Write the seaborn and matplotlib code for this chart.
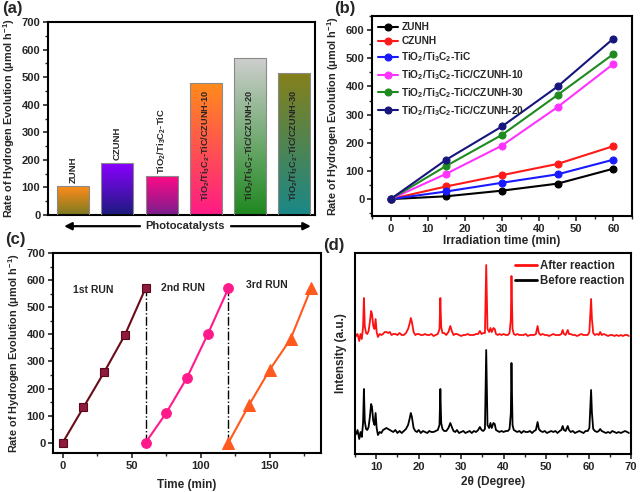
import numpy as np
import pandas as pd
import matplotlib
matplotlib.use('Agg')
import matplotlib.pyplot as plt
import seaborn as sns
from matplotlib.colors import LinearSegmentedColormap
from matplotlib.ticker import MultipleLocator

# ---------------- data ----------------
# (a) bar chart
bar_names = ['ZUNH', 'CZUNH', 'TiO$_2$/Ti$_3$C$_2$-TiC',
             'TiO$_2$/Ti$_3$C$_2$-TiC/CZUNH-10',
             'TiO$_2$/Ti$_3$C$_2$-TiC/CZUNH-20',
             'TiO$_2$/Ti$_3$C$_2$-TiC/CZUNH-30']
bar_values = [105, 188, 140, 480, 570, 515]

# (b) time course
time_b = [0, 15, 30, 45, 60]
b_zunh = [0, 10, 30, 55, 108]
b_czunh = [0, 45, 85, 125, 188]
b_tic = [0, 27, 58, 88, 140]
b_c10 = [0, 90, 190, 327, 480]
b_c30 = [0, 118, 228, 370, 515]
b_c20 = [0, 140, 258, 400, 570]
b_labels = ['ZUNH', 'CZUNH', 'TiO$_2$/Ti$_3$C$_2$-TiC',
            'TiO$_2$/Ti$_3$C$_2$-TiC/CZUNH-10',
            'TiO$_2$/Ti$_3$C$_2$-TiC/CZUNH-30',
            'TiO$_2$/Ti$_3$C$_2$-TiC/CZUNH-20']

# (c) cycling runs
run1_time = [0, 15, 30, 45, 60]
run1_rate = [0, 130, 260, 397, 570]
run2_time = [60, 75, 90, 105, 120]
run2_rate = [0, 110, 240, 400, 570]
run3_time = [120, 135, 150, 165, 180]
run3_rate = [0, 140, 270, 383, 572]
run_names = ['1st RUN', '2nd RUN', '3rd RUN']

# (d) XRD patterns (2theta in degrees, intensity in a.u. above baseline)
two_theta = [5.0, 5.3, 5.6, 6.0, 6.3, 6.6, 6.9, 7.1, 7.3, 7.6,
             7.9, 8.2, 8.5, 8.8, 9.0, 9.3, 9.6, 9.85, 10.1, 10.4,
             10.8, 11.2, 11.6, 12.0, 12.4, 12.8, 13.2, 13.6, 14.0, 14.5,
             15.0, 15.5, 16.0, 16.5, 17.0, 17.5, 17.9, 18.15, 18.4, 18.8,
             19.2, 19.6, 20.0, 20.5, 21.0, 21.5, 22.0, 22.5, 23.0, 23.5,
             24.0, 24.5, 24.9, 25.1, 25.3, 25.6, 26.0, 26.5, 27.0, 27.45,
             27.8, 28.2, 28.6, 29.0, 29.5, 30.0, 30.5, 31.0, 31.5, 32.0,
             32.5, 33.0, 33.5, 34.0, 34.4, 34.8, 35.2, 35.6, 35.9, 36.2,
             36.6, 36.9, 37.2, 37.6, 37.9, 38.2, 38.6, 39.0, 39.5, 40.0,
             40.5, 41.0, 41.4, 41.7, 41.85, 42.1, 42.4, 42.8, 43.2, 43.7,
             44.2, 44.7, 45.2, 45.7, 46.2, 46.7, 47.2, 47.6, 48.0, 48.3,
             48.7, 49.2, 49.7, 50.2, 50.7, 51.2, 51.7, 52.2, 52.7, 53.2,
             53.6, 53.9, 54.2, 54.6, 55.1, 55.4, 55.8, 56.3, 56.8, 57.3,
             57.8, 58.3, 58.8, 59.3, 59.8, 60.2, 60.6, 60.8, 61.1, 61.5,
             62.0, 62.4, 62.75, 63.1, 63.6, 64.1, 64.6, 65.1, 65.6, 66.1,
             66.6, 67.1, 67.6, 68.1, 68.6, 69.1, 69.5]
before_int = [2, -1, 3, -6, 1, -4, 10, 44, 12, 4,
              3, 6, 16, 29, 26, 12, 8, 20, 5, -2,
              1, 0, 3, 4, 5, 4, 3, 2, 1, 3,
              0, 2, 0, 2, 4, 8, 15, 20, 16, 5,
              2, 1, 3, 0, 2, 1, 0, 2, 1, 1,
              2, 3, 8, 44, 10, 4, 2, 2, 5, 10,
              6, 2, 1, 3, 0, 1, 2, 0, 1, 2,
              0, 2, 1, 3, 6, 3, 2, 4, 83, 8,
              5, 10, 5, 10, 9, 3, 2, 1, 2, 1,
              2, 2, 4, 20, 70, 8, 3, 2, 1, 2,
              0, 2, 1, 1, 2, 0, 2, 3, 11, 4,
              2, 1, 2, 0, 1, 2, 1, 2, 0, 2,
              3, 7, 3, 2, 7, 3, 1, 2, 0, 1,
              2, 1, 0, 2, 2, 5, 43, 20, 4, 2,
              1, 2, 4, 2, 1, 0, 1, 0, 2, 1,
              0, 1, 0, 1, 2, 1, 0]
after_int = [3, 0, 2, -5, 2, -3, 9, 38, 10, 3,
             2, 5, 14, 25, 22, 10, 7, 17, 4, -1,
             2, 1, 2, 4, 4, 3, 4, 1, 2, 2,
             1, 3, 1, 1, 3, 7, 13, 18, 14, 4,
             1, 2, 2, 1, 1, 2, 1, 1, 2, 0,
             1, 2, 7, 38, 9, 3, 3, 1, 4, 10,
             5, 1, 2, 2, 1, 0, 1, 1, 2, 1,
             1, 1, 2, 2, 5, 2, 3, 3, 71, 7,
             4, 8, 4, 8, 7, 2, 1, 2, 1, 2,
             1, 1, 3, 17, 60, 7, 2, 1, 2, 1,
             1, 1, 2, 0, 1, 1, 1, 2, 10, 3,
             1, 2, 1, 1, 0, 1, 2, 1, 1, 1,
             2, 6, 2, 1, 6, 2, 2, 1, 1, 0,
             1, 2, 1, 1, 1, 4, 37, 17, 3, 1,
             2, 1, 4, 1, 2, 1, 0, 1, 1, 0,
             1, 0, 1, 0, 1, 1, 0]

# ---------------- style ----------------
sns.set_style('ticks')
plt.rcParams['font.family'] = ['Liberation Sans', 'DejaVu Sans']
plt.rcParams['font.weight'] = 'bold'
plt.rcParams['axes.labelweight'] = 'bold'
plt.rcParams['mathtext.fontset'] = 'custom'
plt.rcParams['mathtext.rm'] = 'Liberation Sans:bold'
plt.rcParams['mathtext.it'] = 'Liberation Sans:bold'
plt.rcParams['mathtext.bf'] = 'Liberation Sans:bold'
plt.rcParams['mathtext.default'] = 'rm'

fig = plt.figure(figsize=(6.4, 4.92), dpi=100)
W, H = 640, 492


def add_ax(l, r, t, b):
    return fig.add_axes([l / W, 1 - b / H, (r - l) / W, (b - t) / H])


def style_ax(ax, minor_x=None, minor_y=None):
    for s in ax.spines.values():
        s.set_linewidth(1.5)
        s.set_color('black')
    ax.tick_params(which='major', direction='out', length=3.5, width=1.2,
                   labelsize=8, top=False, right=False, pad=2)
    ax.tick_params(which='minor', direction='out', length=2, width=1.0,
                   top=False, right=False)
    for lab in ax.get_xticklabels() + ax.get_yticklabels():
        lab.set_fontweight('bold')
    if minor_x:
        ax.xaxis.set_minor_locator(MultipleLocator(minor_x))
    if minor_y:
        ax.yaxis.set_minor_locator(MultipleLocator(minor_y))


ylab = 'Rate of Hydrogen Evolution (μmol h$^{-1}$)'
YLFS = 7.8

# ---------------- (a) ----------------
axA = add_ax(48, 315, 22, 215)
dfa = pd.DataFrame({'cat': bar_names, 'val': bar_values})
sns.barplot(data=dfa, x='cat', y='val', ax=axA, color='white', width=0.72,
            edgecolor='#8a8a8a', linewidth=0.8)
top_cols = ['#ff8c1a', '#8a00ff', '#ff0a86', '#ff8c1a', '#cfcfcf', '#85801a']
bot_cols = ['#7c7a22', '#1c1c7e', '#7a1e8e', '#ff1a86', '#1e881e', '#1a8888']
grad = np.linspace(0, 1, 256).reshape(-1, 1)
for p, c0, c1 in zip(axA.patches, bot_cols, top_cols):
    p.set_facecolor('none')
    p.set_zorder(3)
    x0, y0, w, h = p.get_x(), p.get_y(), p.get_width(), p.get_height()
    cmap = LinearSegmentedColormap.from_list('g', [c0, c1])
    im = axA.imshow(grad, extent=[x0, x0 + w, y0, y0 + h], origin='lower',
                    cmap=cmap, aspect='auto', zorder=2)
    im.set_clip_path(p)
axA.set_xlim(-0.57, 5.47)
axA.set_ylim(0, 700)
axA.set_aspect('auto')
for i, (name, v) in enumerate(zip(bar_names, bar_values)):
    if i < 3:
        axA.annotate(name, (i, v), xytext=(0, 2), textcoords='offset points',
                     rotation=90, ha='center', va='bottom', fontsize=6.8,
                     fontweight='bold', zorder=5)
    else:
        axA.text(i, 52, name, rotation=90, ha='center', va='bottom',
                 fontsize=6.6, fontweight='bold', zorder=5)
axA.set_xticks([])
axA.set_xlabel('')
axA.yaxis.set_major_locator(MultipleLocator(100))
style_ax(axA, minor_y=50)
axA.set_ylabel(ylab, fontsize=YLFS, labelpad=3)
yarr = -0.058
axA.annotate('', xy=(0.05, yarr), xytext=(0.355, yarr), xycoords='axes fraction',
             arrowprops=dict(arrowstyle='-|>', color='black', lw=1.6,
                             mutation_scale=11), annotation_clip=False)
axA.annotate('', xy=(0.995, yarr), xytext=(0.675, yarr), xycoords='axes fraction',
             arrowprops=dict(arrowstyle='-|>', color='black', lw=1.6,
                             mutation_scale=11), annotation_clip=False)
axA.text(0.512, yarr, 'Photocatalysts', transform=axA.transAxes, ha='center',
         va='center', fontsize=8, fontweight='bold')

# ---------------- (b) ----------------
axB = add_ax(372, 632, 16, 216)
b_series = [b_zunh, b_czunh, b_tic, b_c10, b_c30, b_c20]
b_colors = ['#000000', '#ff1a1a', '#1a1aff', '#ff33ff', '#1f8a1f', '#16167c']
for ys, lab, col in zip(b_series, b_labels, b_colors):
    sns.lineplot(x=time_b, y=ys, ax=axB, color=col, lw=1.5, marker='o',
                 markersize=5, markerfacecolor=col, markeredgecolor=col,
                 markeredgewidth=0.8, label=lab)
axB.set_xlim(-5, 65)
axB.set_ylim(-60, 650)
axB.xaxis.set_major_locator(MultipleLocator(10))
axB.yaxis.set_major_locator(MultipleLocator(100))
style_ax(axB, minor_x=5, minor_y=50)
axB.set_xlabel('Irradiation time (min)', fontsize=8.5, labelpad=1)
axB.set_ylabel(ylab, fontsize=YLFS, labelpad=3)
leg = axB.legend(loc='upper left', frameon=False, fontsize=7.3,
                 handlelength=2.0, labelspacing=0.4, borderaxespad=0.2,
                 handletextpad=0.3)
for t in leg.get_texts():
    t.set_fontweight('bold')

# ---------------- (c) ----------------
axC = add_ax(53, 321, 253, 453)
sns.lineplot(x=run1_time, y=run1_rate, ax=axC, color='#6a0c18', lw=1.5,
             marker='s', markersize=6, markerfacecolor='#8e1a3e',
             markeredgecolor='#5a0a14', markeredgewidth=0.8)
sns.lineplot(x=run2_time, y=run2_rate, ax=axC, color='#ff1a8c', lw=1.5,
             marker='o', markersize=7, markerfacecolor='#ff1a8c',
             markeredgecolor='#ff1a8c')
sns.lineplot(x=run3_time, y=run3_rate, ax=axC, color='#ff5a1e', lw=1.5,
             marker='^', markersize=8, markerfacecolor='#ff5a1e',
             markeredgecolor='#ff5a1e')
axC.vlines(run1_time[-1], run2_rate[0], run1_rate[-1], colors='black',
           linestyles='-.', lw=1.0, zorder=1)
axC.vlines(run2_time[-1], run3_rate[0], run2_rate[-1], colors='black',
           linestyles='-.', lw=1.0, zorder=1)
axC.text(22, 565, run_names[0], ha='center', va='center', fontsize=7.5,
         fontweight='bold')
axC.text(87, 570, run_names[1], ha='center', va='center', fontsize=7.5,
         fontweight='bold')
axC.text(148, 582, run_names[2], ha='center', va='center', fontsize=7.5,
         fontweight='bold')
axC.set_xlim(-7, 187)
axC.set_ylim(-38, 700)
axC.xaxis.set_major_locator(MultipleLocator(50))
axC.yaxis.set_major_locator(MultipleLocator(100))
style_ax(axC, minor_x=25, minor_y=50)
axC.set_xlabel('Time (min)', fontsize=8.5, labelpad=6)
axC.set_ylabel(ylab, fontsize=YLFS, labelpad=3)

# ---------------- (d) ----------------
axD = add_ax(355, 631, 253, 454)
off_before, off_after = 21, 118
sns.lineplot(x=two_theta, y=np.array(after_int) + off_after, ax=axD,
             color='#ff1010', lw=1.3, label='After reaction')
sns.lineplot(x=two_theta, y=np.array(before_int) + off_before, ax=axD,
             color='black', lw=1.3, label='Before reaction')
axD.set_xlim(5, 70)
axD.set_ylim(0, 201)
axD.xaxis.set_major_locator(MultipleLocator(10))
axD.set_yticks([])
style_ax(axD, minor_x=5)
axD.set_xlabel('2θ (Degree)', fontsize=8.5, labelpad=3)
axD.set_ylabel('Intensity (a.u.)', fontsize=8.5, labelpad=6)
leg = axD.legend(loc='upper right', frameon=False, fontsize=8.3,
                 handlelength=1.9, labelspacing=0.25, borderaxespad=0.2,
                 handletextpad=0.2)
for t in leg.get_texts():
    t.set_fontweight('bold')
for ln in leg.get_lines():
    ln.set_linewidth(2)

# ---------------- panel labels ----------------
for txt, x, y in [('(a)', 2, 1), ('(b)', 334, 1), ('(c)', 5, 232), ('(d)', 323, 238)]:
    fig.text(x / W, 1 - y / H, txt, fontsize=12, fontweight='bold',
             ha='left', va='top')

fig.savefig('out.png', dpi=100)
